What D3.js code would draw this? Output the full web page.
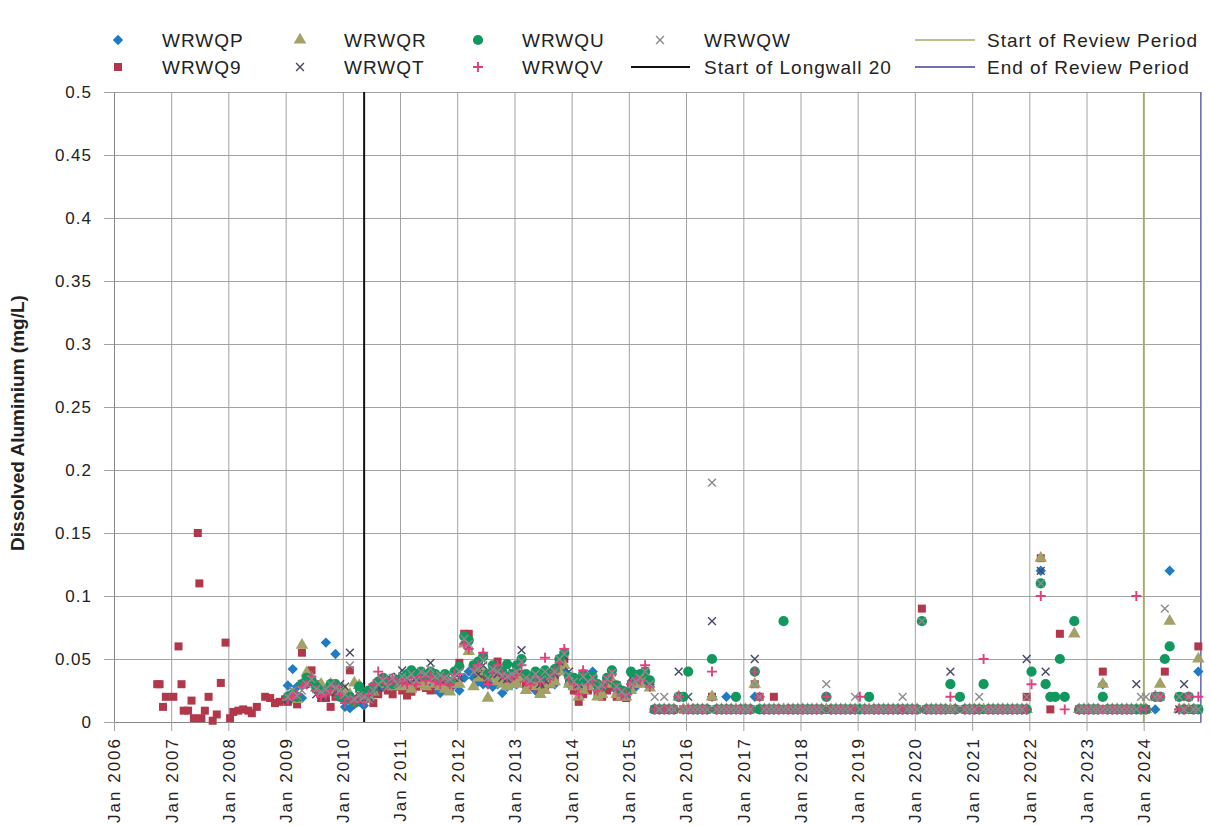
<!DOCTYPE html>
<html>
<head>
<meta charset="utf-8">
<script src="https://cdn.jsdelivr.net/npm/d3@7"></script>
<style>
  body { margin: 0; background: #fff; }
  svg text { font-family: "Liberation Sans", Arial, sans-serif; fill: #222; }
</style>
</head>
<body>
<div id="chart"></div>
<script>
// monthly samples, one row per year, Jan..Dec, starting Jan 2009
const firstYear = 2009;

const wrwqp = [
  0.029, 0.042, 0.028, 0.019, 0.03, 0.032, 0.025, 0.022, 0.063, 0.025, 0.054, 0.02,   // 2009
  0.012, 0.011, 0.014, 0.016, 0.013, 0.02, 0.022, 0.025, 0.028, 0.03, 0.026, 0.03,    // 2010
  0.03, 0.028, 0.03, 0.03, 0.035, 0.03, 0.028, 0.026, 0.023, 0.03, 0.028, 0.03,       // 2011
  0.025, 0.035, 0.04, 0.035, 0.032, 0.03, 0.03, 0.028, 0.03, 0.023, 0.028, 0.03,      // 2012
  0.03, 0.035, 0.028, 0.03, 0.025, 0.032, 0.03, 0.035, 0.03, 0.04, 0.04, 0.03,        // 2013
  0.03, 0.025, 0.03, 0.032, 0.04, 0.028, 0.025, 0.03, 0.028, 0.025, 0.022, 0.02,      // 2014
  0.025, 0.028, 0.035, 0.033, 0.03, 0.01, 0.01, 0.01, 0.01, 0.01, 0.02, 0.01,         // 2015
  0.01, 0.01, 0.01, 0.01, 0.01, 0.02, 0.01, 0.01, 0.02, 0.01, 0.01, 0.01,             // 2016
  0.01, 0.01, 0.02, 0.01, 0.01, 0.01, 0.01, 0.01, 0.01, 0.01, 0.01, 0.01,             // 2017
  0.01, 0.01, 0.01, 0.01, 0.01, 0.01, 0.01, 0.01, 0.01, 0.01, 0.01, 0.01,             // 2018
  0.01, 0.01, 0.01, 0.01, 0.01, 0.01, 0.01, 0.01, 0.01, 0.01, 0.01, 0.01,             // 2019
  0.01, null, 0.01, 0.01, 0.01, 0.01, 0.01, 0.01, 0.01, null, 0.01, 0.01,             // 2020
  0.01, 0.01, 0.01, 0.01, 0.01, 0.01, 0.01, 0.01, 0.01, 0.01, 0.01, 0.01,             // 2021
  null, null, 0.12, null, null, null, null, null, null, null, 0.01, 0.01,             // 2022
  0.01, 0.01, 0.01, 0.03, 0.01, 0.01, 0.01, 0.01, 0.01, 0.01, 0.01, 0.01,             // 2023
  0.01, null, 0.01, 0.02, null, 0.12, null, 0.01, 0.01, 0.01, 0.01, 0.04              // 2024
];

// WRWQ9 was sampled irregularly before 2009
const wrwq9Early = [
  ["2006-10-04", 0.03], ["2006-10-19", 0.03], ["2006-11-10", 0.012], ["2006-11-28", 0.02],
  ["2007-01-15", 0.02], ["2007-02-17", 0.06], ["2007-03-08", 0.03], ["2007-03-22", 0.009],
  ["2007-04-19", 0.009], ["2007-05-11", 0.017], ["2007-05-26", 0.003], ["2007-06-20", 0.15],
  ["2007-06-30", 0.11], ["2007-07-13", 0.003], ["2007-08-04", 0.009], ["2007-08-28", 0.02],
  ["2007-09-23", 0.001], ["2007-10-19", 0.006], ["2007-11-14", 0.031], ["2007-12-14", 0.063],
  ["2008-01-12", 0.003], ["2008-02-02", 0.008], ["2008-03-05", 0.009], ["2008-04-05", 0.01],
  ["2008-05-08", 0.009], ["2008-05-30", 0.007], ["2008-07-01", 0.012], ["2008-08-23", 0.02],
  ["2008-09-24", 0.019], ["2008-10-25", 0.015], ["2008-11-24", 0.016], ["2008-12-28", 0.018]
];

const wrwq9 = [
  0.016, 0.018, 0.014, 0.055, 0.035, 0.041, 0.03, 0.019, 0.019, 0.012, 0.02, 0.025,   // 2009
  0.02, 0.041, 0.016, 0.018, 0.02, 0.022, 0.015, 0.022, 0.03, 0.025, 0.022, 0.028,    // 2010
  0.025, 0.021, 0.024, 0.028, 0.03, 0.027, 0.025, 0.03, 0.032, 0.028, 0.026, 0.03,    // 2011
  0.047, 0.07, 0.07, 0.045, 0.04, 0.035, 0.033, 0.038, 0.048, 0.035, 0.03, 0.032,     // 2012
  0.032, 0.038, 0.03, 0.028, 0.03, 0.025, 0.028, 0.03, 0.035, 0.045, 0.05, 0.033,     // 2013
  0.025, 0.016, 0.022, 0.025, 0.03, 0.022, 0.02, 0.025, 0.03, 0.02, 0.021, 0.019,     // 2014
  0.03, 0.03, 0.032, 0.04, 0.03, 0.01, 0.01, 0.01, 0.01, 0.01, 0.02, 0.01,            // 2015
  0.01, 0.01, 0.01, 0.01, 0.01, 0.02, 0.01, 0.01, 0.01, 0.01, 0.01, 0.01,             // 2016
  0.01, 0.01, 0.03, 0.02, 0.01, 0.01, 0.02, 0.01, 0.01, 0.01, 0.01, 0.01,             // 2017
  0.01, 0.01, 0.01, 0.01, 0.01, 0.01, 0.01, 0.01, 0.01, 0.01, 0.01, 0.01,             // 2018
  0.01, 0.01, 0.01, 0.01, 0.01, 0.01, 0.01, 0.01, 0.01, 0.01, 0.01, 0.01,             // 2019
  0.01, 0.09, 0.01, 0.01, 0.01, 0.01, 0.01, 0.01, 0.01, null, 0.01, 0.01,             // 2020
  0.01, 0.01, 0.01, 0.01, 0.01, 0.01, 0.01, 0.01, 0.01, 0.01, 0.01, 0.02,             // 2021
  null, null, 0.13, null, 0.01, null, 0.07, null, null, null, 0.01, 0.01,             // 2022
  0.01, 0.01, 0.01, 0.04, 0.01, 0.01, 0.01, 0.01, 0.01, 0.01, 0.01, 0.01,             // 2023
  0.01, null, 0.02, 0.02, 0.04, null, null, 0.02, 0.02, 0.01, 0.01, 0.06              // 2024
];

const wrwqr = [
  0.02, 0.022, 0.018, 0.061, 0.039, 0.035, 0.027, 0.03, 0.025, 0.03, 0.025, 0.022,    // 2009
  0.025, 0.022, 0.031, 0.029, 0.018, 0.02, 0.024, 0.03, 0.03, 0.032, 0.028, 0.03,     // 2010
  0.028, 0.03, 0.026, 0.032, 0.03, 0.028, 0.033, 0.03, 0.028, 0.026, 0.024, 0.03,     // 2011
  0.03, 0.062, 0.056, 0.028, 0.035, 0.04, 0.019, 0.035, 0.032, 0.03, 0.028, 0.03,     // 2012
  0.03, 0.035, 0.025, 0.03, 0.028, 0.022, 0.025, 0.03, 0.032, 0.04, 0.045, 0.03,      // 2013
  0.028, 0.02, 0.025, 0.028, 0.03, 0.02, 0.022, 0.03, 0.033, 0.022, 0.02, 0.02,       // 2014
  0.025, 0.03, 0.03, 0.035, 0.027, 0.01, 0.01, 0.01, 0.01, 0.01, 0.02, 0.01,          // 2015
  0.01, 0.01, 0.01, 0.01, 0.01, 0.02, 0.01, 0.01, 0.01, 0.01, 0.01, 0.01,             // 2016
  0.01, 0.01, 0.03, 0.01, 0.01, 0.01, 0.01, 0.01, 0.01, 0.01, 0.01, 0.01,             // 2017
  0.01, 0.01, 0.01, 0.01, 0.01, 0.01, 0.01, 0.01, 0.01, 0.01, 0.01, 0.01,             // 2018
  0.01, 0.01, 0.01, 0.01, 0.01, 0.01, 0.01, 0.01, 0.01, 0.01, 0.01, 0.01,             // 2019
  0.01, null, 0.01, 0.01, 0.01, 0.01, 0.01, 0.01, 0.01, null, 0.01, 0.01,             // 2020
  0.01, 0.01, 0.01, 0.01, 0.01, 0.01, 0.01, 0.01, 0.01, 0.01, 0.01, 0.01,             // 2021
  null, null, 0.13, null, null, null, null, null, null, 0.07, 0.01, 0.01,             // 2022
  0.01, 0.01, 0.01, 0.03, 0.01, 0.01, 0.01, 0.01, 0.01, 0.01, 0.01, 0.01,             // 2023
  0.01, null, 0.02, 0.03, null, 0.08, null, 0.01, 0.01, 0.01, 0.01, 0.05              // 2024
];

const wrwqt = [
  0.018, 0.025, 0.02, 0.03, 0.032, 0.03, 0.022, 0.025, 0.02, 0.028, 0.024, 0.03,      // 2009
  0.028, 0.055, 0.02, 0.022, 0.018, 0.02, 0.025, 0.027, 0.03, 0.035, 0.033, 0.036,    // 2010
  0.041, 0.033, 0.036, 0.035, 0.038, 0.04, 0.047, 0.035, 0.033, 0.036, 0.032, 0.035,  // 2011
  0.035, 0.065, 0.06, 0.04, 0.038, 0.045, 0.035, 0.04, 0.038, 0.035, 0.034, 0.04,     // 2012
  0.04, 0.057, 0.035, 0.032, 0.035, 0.03, 0.033, 0.036, 0.038, 0.048, 0.052, 0.04,    // 2013
  0.033, 0.03, 0.035, 0.033, 0.035, 0.028, 0.03, 0.033, 0.04, 0.029, 0.025, 0.022,    // 2014
  0.035, 0.033, 0.038, 0.04, 0.03, 0.01, 0.01, 0.01, 0.01, 0.01, 0.04, 0.01,          // 2015
  0.02, 0.01, 0.01, 0.01, 0.01, 0.08, 0.01, 0.01, 0.01, 0.01, 0.01, 0.01,             // 2016
  0.01, 0.01, 0.05, 0.01, 0.01, 0.01, 0.01, 0.01, 0.01, 0.01, 0.01, 0.01,             // 2017
  0.01, 0.01, 0.01, 0.01, 0.01, 0.01, 0.01, 0.01, 0.01, 0.01, 0.01, 0.01,             // 2018
  0.01, 0.01, 0.01, 0.01, 0.01, 0.01, 0.01, 0.01, 0.01, 0.01, 0.01, 0.01,             // 2019
  0.01, null, 0.01, 0.01, 0.01, 0.01, 0.01, 0.04, 0.01, null, 0.01, 0.01,             // 2020
  0.01, 0.01, 0.01, 0.01, 0.01, 0.01, 0.01, 0.01, 0.01, 0.01, 0.01, 0.05,             // 2021
  null, null, 0.12, 0.04, null, null, null, null, null, null, 0.01, 0.01,             // 2022
  0.01, 0.01, 0.01, 0.01, 0.01, 0.01, 0.01, 0.01, 0.01, 0.01, 0.03, 0.01,             // 2023
  0.01, null, 0.02, 0.02, null, null, null, 0.01, 0.03, 0.01, 0.01, 0.01              // 2024
];

const wrwqu = [
  0.02, 0.022, 0.02, 0.03, 0.035, 0.033, 0.028, 0.025, 0.024, 0.03, 0.03, 0.02,       // 2009
  0.018, 0.02, 0.015, 0.028, 0.022, 0.025, 0.028, 0.032, 0.035, 0.03, 0.03, 0.033,    // 2010
  0.035, 0.038, 0.041, 0.038, 0.04, 0.036, 0.04, 0.038, 0.035, 0.038, 0.032, 0.04,    // 2011
  0.044, 0.068, 0.065, 0.045, 0.048, 0.052, 0.038, 0.045, 0.042, 0.04, 0.046, 0.038,  // 2012
  0.045, 0.05, 0.038, 0.035, 0.04, 0.035, 0.041, 0.038, 0.042, 0.05, 0.055, 0.036,    // 2013
  0.035, 0.033, 0.038, 0.035, 0.036, 0.03, 0.028, 0.035, 0.041, 0.029, 0.025, 0.024,  // 2014
  0.04, 0.036, 0.038, 0.04, 0.033, 0.01, 0.01, 0.01, 0.01, 0.01, 0.02, 0.02,          // 2015
  0.04, 0.01, 0.01, 0.01, 0.01, 0.05, 0.01, 0.01, 0.01, 0.01, 0.02, 0.01,             // 2016
  0.01, 0.01, 0.04, 0.01, 0.01, 0.01, 0.01, 0.01, 0.08, 0.01, 0.01, 0.01,             // 2017
  0.01, 0.01, 0.01, 0.01, 0.01, 0.02, 0.01, 0.01, 0.01, 0.01, 0.01, 0.01,             // 2018
  0.01, 0.01, 0.02, 0.01, 0.01, 0.01, 0.01, 0.01, 0.01, 0.01, 0.01, 0.01,             // 2019
  0.01, 0.08, 0.01, 0.01, 0.01, 0.01, 0.01, 0.03, 0.01, 0.02, 0.01, 0.01,             // 2020
  0.01, 0.01, 0.03, 0.01, 0.01, 0.01, 0.01, 0.01, 0.01, 0.01, 0.01, 0.01,             // 2021
  0.04, null, 0.11, 0.03, 0.02, 0.02, 0.05, 0.02, null, 0.08, 0.01, 0.01,             // 2022
  0.01, 0.01, 0.01, 0.02, 0.01, 0.01, 0.01, 0.01, 0.01, 0.01, 0.01, 0.01,             // 2023
  0.01, null, 0.02, 0.02, 0.05, 0.06, null, 0.02, 0.01, 0.02, 0.01, 0.01              // 2024
];

const wrwqv = [
  0.018, 0.02, 0.022, 0.028, 0.03, 0.036, 0.025, 0.02, 0.022, 0.025, 0.028, 0.022,    // 2009
  0.015, 0.018, 0.016, 0.02, 0.016, 0.022, 0.03, 0.04, 0.035, 0.03, 0.035, 0.032,     // 2010
  0.032, 0.03, 0.035, 0.03, 0.036, 0.033, 0.036, 0.032, 0.03, 0.034, 0.03, 0.038,     // 2011
  0.038, 0.062, 0.058, 0.042, 0.045, 0.055, 0.03, 0.04, 0.045, 0.038, 0.035, 0.036,   // 2012
  0.038, 0.045, 0.032, 0.03, 0.036, 0.032, 0.051, 0.035, 0.04, 0.047, 0.058, 0.035,   // 2013
  0.03, 0.022, 0.041, 0.03, 0.033, 0.025, 0.028, 0.033, 0.038, 0.027, 0.021, 0.022,   // 2014
  0.03, 0.035, 0.033, 0.045, 0.028, 0.01, 0.01, 0.01, 0.01, 0.01, 0.02, 0.01,         // 2015
  0.01, 0.01, 0.01, 0.01, 0.01, 0.04, 0.01, 0.01, 0.01, 0.01, 0.01, 0.01,             // 2016
  0.01, 0.01, 0.04, 0.02, 0.01, 0.01, 0.01, 0.01, 0.01, 0.01, 0.01, 0.01,             // 2017
  0.01, 0.01, 0.01, 0.01, 0.01, 0.02, 0.01, 0.01, 0.01, 0.01, 0.01, 0.01,             // 2018
  0.02, 0.01, 0.01, 0.01, 0.01, 0.01, 0.01, 0.01, 0.01, 0.01, 0.01, 0.01,             // 2019
  0.01, null, 0.01, 0.01, 0.01, 0.01, 0.01, 0.02, 0.01, null, 0.01, 0.01,             // 2020
  0.01, 0.01, 0.05, 0.01, 0.01, 0.01, 0.01, 0.01, 0.01, 0.01, 0.01, 0.01,             // 2021
  0.03, null, 0.1, null, null, null, null, 0.01, null, null, 0.01, 0.01,              // 2022
  0.01, 0.01, 0.01, 0.01, 0.01, 0.01, 0.01, 0.01, 0.01, 0.01, 0.1, 0.01,              // 2023
  0.01, null, 0.02, 0.02, null, null, null, 0.01, 0.01, 0.02, 0.01, 0.02              // 2024
];

const wrwqw = [
  0.02, 0.025, 0.021, 0.025, 0.03, 0.034, 0.026, 0.024, 0.026, 0.03, 0.027, 0.025,    // 2009
  0.022, 0.045, 0.018, 0.021, 0.02, 0.018, 0.025, 0.03, 0.033, 0.028, 0.035, 0.03,    // 2010
  0.036, 0.035, 0.038, 0.033, 0.04, 0.038, 0.042, 0.036, 0.037, 0.035, 0.034, 0.036,  // 2011
  0.04, 0.066, 0.062, 0.04, 0.042, 0.049, 0.035, 0.042, 0.04, 0.037, 0.036, 0.038,    // 2012
  0.04, 0.048, 0.035, 0.033, 0.038, 0.033, 0.04, 0.036, 0.04, 0.05, 0.054, 0.037,     // 2013
  0.032, 0.028, 0.036, 0.032, 0.035, 0.027, 0.029, 0.034, 0.039, 0.028, 0.024, 0.021, // 2014
  0.03, 0.032, 0.035, 0.04, 0.03, 0.02, 0.01, 0.02, 0.01, 0.01, 0.02, 0.01,           // 2015
  0.01, 0.01, 0.01, 0.01, 0.01, 0.19, 0.01, 0.01, 0.01, 0.01, 0.01, 0.01,             // 2016
  0.01, 0.01, 0.03, 0.02, 0.01, 0.01, 0.01, 0.01, 0.01, 0.01, 0.01, 0.01,             // 2017
  0.01, 0.01, 0.01, 0.01, 0.01, 0.03, 0.01, 0.01, 0.01, 0.01, 0.01, 0.02,             // 2018
  0.01, 0.01, 0.01, 0.01, 0.01, 0.01, 0.01, 0.01, 0.01, 0.02, 0.01, 0.01,             // 2019
  0.01, 0.08, 0.01, 0.01, 0.01, 0.01, 0.01, 0.01, 0.01, null, 0.01, 0.01,             // 2020
  0.01, 0.02, 0.01, 0.01, 0.01, 0.01, 0.01, 0.01, 0.01, 0.01, 0.01, 0.02,             // 2021
  null, null, 0.11, null, null, null, null, null, null, null, 0.01, 0.01,             // 2022
  0.01, 0.01, 0.01, 0.01, 0.01, 0.01, 0.01, 0.01, 0.01, 0.01, 0.01, 0.02,             // 2023
  0.02, null, 0.02, 0.02, 0.09, null, null, 0.02, 0.01, 0.02, 0.01, 0.01              // 2024
];

const xTickYears = [2006, 2007, 2008, 2009, 2010, 2011, 2012, 2013, 2014, 2015,
  2016, 2017, 2018, 2019, 2020, 2021, 2022, 2023, 2024];
const yTicks = [0, 0.05, 0.1, 0.15, 0.2, 0.25, 0.3, 0.35, 0.4, 0.45, 0.5];

const longwall20Start = "2010-05-17";
const reviewStart = "2024-01-01";
const reviewEnd = "2024-12-31";

const width = 1210, height = 825;
const plotLeft = 114, plotRight = 1201, plotTop = 92, plotBottom = 722;

const parseDate = d3.timeParse("%Y-%m-%d");

function monthly(values) {
  return values
    .map((v, i) => ({ date: new Date(firstYear + Math.floor(i / 12), i % 12, 15), value: v }))
    .filter(d => d.value != null);
}

const timesPath = r => `M${-r},${-r}L${r},${r}M${-r},${r}L${r},${-r}`;
const plusPath = r => `M${-r},0L${r},0M0,${-r}L0,${r}`;
const diamondPath = r => `M0,${-r}L${r},0L0,${r}L${-r},0Z`;

const series = [
  { name: "WRWQP", color: "#1f7bc4", shape: "diamond",
    points: monthly(wrwqp) },
  { name: "WRWQ9", color: "#b3374a", shape: "square",
    points: wrwq9Early.map(d => ({ date: parseDate(d[0]), value: d[1] })).concat(monthly(wrwq9)) },
  { name: "WRWQR", color: "#a3a266", shape: "triangle",
    points: monthly(wrwqr) },
  { name: "WRWQT", color: "#454866", shape: "times",
    points: monthly(wrwqt) },
  { name: "WRWQU", color: "#11985f", shape: "circle",
    points: monthly(wrwqu) },
  { name: "WRWQV", color: "#e33f7f", shape: "plus",
    points: monthly(wrwqv) },
  { name: "WRWQW", color: "#8c8c8c", shape: "times",
    points: monthly(wrwqw) }
];

const x = d3.scaleTime()
  .domain([new Date(2006, 0, 1), new Date(2025, 0, 1)])
  .range([plotLeft, plotRight]);
const y = d3.scaleLinear()
  .domain([0, 0.5])
  .range([plotBottom, plotTop]);

const svg = d3.select("#chart").append("svg")
  .attr("width", width)
  .attr("height", height)
  .attr("viewBox", `0 0 ${width} ${height}`);

// grid
svg.append("g")
  .attr("transform", `translate(${plotLeft},0)`)
  .call(d3.axisLeft(y).tickValues(yTicks).tickSize(-(plotRight - plotLeft)).tickFormat(""))
  .call(g => g.select(".domain").remove())
  .call(g => g.selectAll("line").attr("stroke", "#a2a2a2"));

svg.append("g")
  .attr("transform", `translate(0,${plotBottom})`)
  .call(d3.axisBottom(x).tickValues(xTickYears.map(yr => new Date(yr, 0, 1)))
    .tickSize(-(plotBottom - plotTop)).tickFormat(""))
  .call(g => g.select(".domain").remove())
  .call(g => g.selectAll("line").attr("stroke", "#a2a2a2"));

// axes
const fmtY = d => String(+d.toFixed(2));
svg.append("g")
  .attr("transform", `translate(${plotLeft},0)`)
  .call(d3.axisLeft(y).tickValues(yTicks).tickSize(10).tickSizeOuter(0).tickPadding(12).tickFormat(fmtY))
  .call(g => g.select(".domain").attr("stroke", "#888"))
  .call(g => g.selectAll("line").attr("stroke", "#a2a2a2"))
  .call(g => g.selectAll("text")
    .style("font-size", "17px").style("letter-spacing", "1px").attr("fill", "#222"));

svg.append("g")
  .attr("transform", `translate(0,${plotBottom})`)
  .call(d3.axisBottom(x).tickValues(xTickYears.map(yr => new Date(yr, 0, 1)))
    .tickSize(9).tickSizeOuter(0).tickFormat(d => "Jan " + d.getFullYear()))
  .call(g => g.select(".domain").attr("stroke", "#888"))
  .call(g => g.selectAll("line").attr("stroke", "#a2a2a2"))
  .call(g => g.selectAll("text")
    .attr("transform", "rotate(-90)")
    .attr("x", -15).attr("y", 0).attr("dy", "0.35em")
    .style("text-anchor", "end")
    .style("font-size", "17px").style("letter-spacing", "2px").attr("fill", "#222"));

svg.append("text")
  .attr("transform", "translate(24,423) rotate(-90)")
  .attr("text-anchor", "middle")
  .style("font-size", "19px")
  .style("font-weight", "bold")
  .text("Dissolved Aluminium (mg/L)");

// event lines
const events = [
  { date: longwall20Start, color: "#111", width: 2 },
  { date: reviewStart, color: "#a7b34a", width: 1.6 },
  { date: reviewEnd, color: "#6d6db2", width: 1.6 }
];
svg.append("g").selectAll("line")
  .data(events)
  .join("line")
  .attr("x1", d => x(parseDate(d.date)))
  .attr("x2", d => x(parseDate(d.date)))
  .attr("y1", plotTop)
  .attr("y2", plotBottom)
  .attr("stroke", d => d.color)
  .attr("stroke-width", d => d.width);

// markers
function drawMarker(sel, s) {
  if (s.shape === "times" || s.shape === "plus") {
    sel.append("path")
      .attr("d", s.shape === "times" ? timesPath(3.9) : plusPath(5))
      .attr("fill", "none")
      .attr("stroke", s.color)
      .attr("stroke-width", s.shape === "plus" ? 1.9 : 1.4);
  } else if (s.shape === "diamond") {
    sel.append("path")
      .attr("d", diamondPath(5.2))
      .attr("fill", s.color);
  } else {
    const type = { square: d3.symbolSquare,
      triangle: d3.symbolTriangle, circle: d3.symbolCircle }[s.shape];
    const size = { square: 64, triangle: 68, circle: 82 }[s.shape];
    sel.append("path")
      .attr("d", d3.symbol().type(type).size(size)())
      .attr("fill", s.color);
  }
}

series.forEach(s => {
  svg.append("g")
    .attr("class", "series " + s.name)
    .selectAll("g")
    .data(s.points)
    .join("g")
    .attr("transform", d => `translate(${x(d.date)},${y(d.value)})`)
    .each(function () { drawMarker(d3.select(this), s); });
});

// legend
const legendItems = [
  { kind: "series", s: series[0], mx: 118, tx: 162, row: 0 },
  { kind: "series", s: series[1], mx: 118, tx: 162, row: 1 },
  { kind: "series", s: series[2], mx: 300, tx: 344, row: 0 },
  { kind: "series", s: series[3], mx: 300, tx: 344, row: 1 },
  { kind: "series", s: series[4], mx: 478, tx: 522, row: 0 },
  { kind: "series", s: series[5], mx: 478, tx: 522, row: 1 },
  { kind: "series", s: series[6], mx: 660, tx: 704, row: 0 },
  { kind: "line", label: "Start of Longwall 20", color: "#111", x1: 631, x2: 690, tx: 704, row: 1 },
  { kind: "line", label: "Start of Review Period", color: "#b9c08e", x1: 915, x2: 975, tx: 987, row: 0 },
  { kind: "line", label: "End of Review Period", color: "#7070aa", x1: 915, x2: 975, tx: 987, row: 1 }
];
const rowY = [40, 67];

const legend = svg.append("g").attr("class", "legend");
legendItems.forEach(it => {
  const yy = rowY[it.row];
  if (it.kind === "series") {
    const g = legend.append("g").attr("transform", `translate(${it.mx},${yy})`);
    drawMarker(g, it.s);
  } else {
    legend.append("line")
      .attr("x1", it.x1).attr("x2", it.x2)
      .attr("y1", yy).attr("y2", yy)
      .attr("stroke", it.color).attr("stroke-width", 2);
  }
  legend.append("text")
    .attr("x", it.tx).attr("y", yy)
    .attr("dy", "0.36em")
    .style("font-size", "19px")
    .style("letter-spacing", "1px")
    .text(it.kind === "series" ? it.s.name : it.label);
});
</script>
</body>
</html>
